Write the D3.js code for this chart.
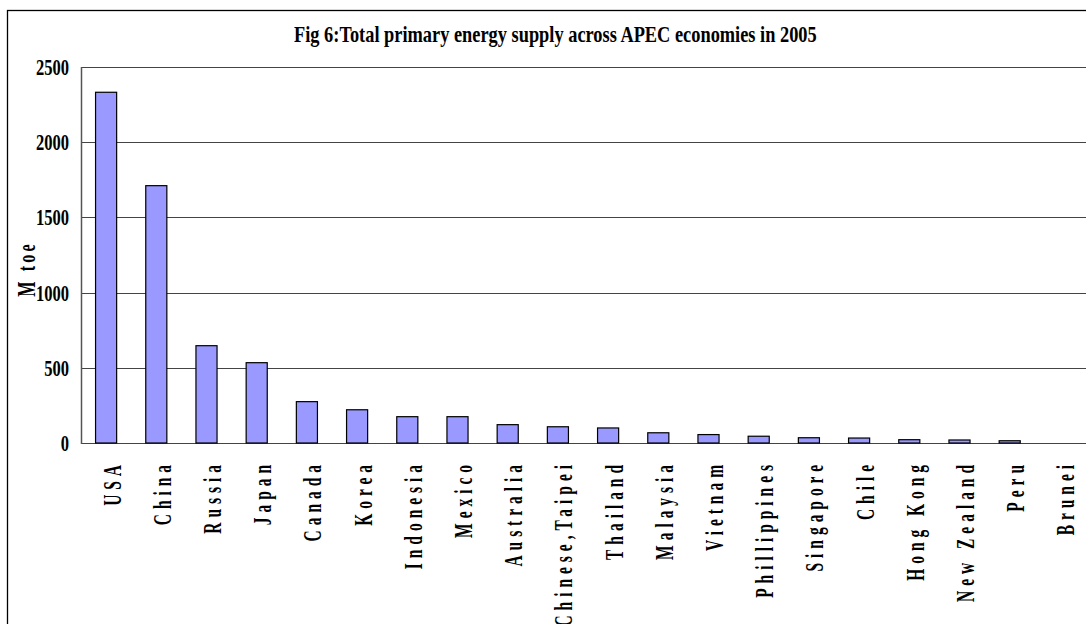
<!DOCTYPE html>
<html>
<head>
<meta charset="utf-8">
<script src="https://cdn.jsdelivr.net/npm/d3@7"></script>
<style>
  html, body { margin: 0; padding: 0; background: #fff; }
  svg { display: block; }
  text { font-family: "Liberation Serif", "Times New Roman", serif; font-weight: bold; fill: #000; }
</style>
</head>
<body>
<script>
const categories = ["USA", "China", "Russia", "Japan", "Canada", "Korea", "Indonesia", "Mexico",
  "Australia", "Chinese,Taipei", "Thailand", "Malaysia", "Vietnam", "Phillippines", "Singapore",
  "Chile", "Hong Kong", "New Zealand", "Peru", "Brunei"];
const values = [2332, 1711, 647, 534, 275, 221, 175, 175, 122, 108, 100, 68, 56, 45, 35, 33, 22, 20, 15, 0];
const yTicks = [0, 500, 1000, 1500, 2000, 2500];
const titleText = "Fig 6:Total primary energy supply across APEC economies in 2005";
const yTitle = "M toe";

(function () {
const W = 1086, H = 624;
const svg = d3.select("body").append("svg").attr("width", W).attr("height", H);

// outer frame (extends beyond the picture on right and bottom)
svg.append("rect").attr("x", 7.5).attr("y", 10.5).attr("width", 1200).attr("height", 800)
  .attr("fill", "none").attr("stroke", "#000").attr("stroke-width", 1.3);

const pLeft = 81, pRight = 1085, pTop = 67, pBottom = 443;
const x = d3.scaleBand().domain(categories).range([pLeft, pRight]).paddingInner(0.58).paddingOuter(0.29);
const y = d3.scaleLinear().domain([0, 2500]).range([pBottom, pTop]);

// gridlines
svg.append("g").selectAll("line").data(yTicks).join("line")
  .attr("x1", pLeft).attr("x2", W)
  .attr("y1", d => Math.round(y(d)) + 0.5).attr("y2", d => Math.round(y(d)) + 0.5)
  .attr("stroke", "#444").attr("stroke-width", 1.1);

// y axis line
svg.append("line").attr("x1", pLeft + 0.5).attr("x2", pLeft + 0.5).attr("y1", pTop).attr("y2", pBottom + 1)
  .attr("stroke", "#555").attr("stroke-width", 1.5);

// bars
svg.append("g").selectAll("rect").data(values).join("rect")
  .attr("x", (d, i) => x(categories[i]))
  .attr("y", d => y(d))
  .attr("width", x.bandwidth())
  .attr("height", d => pBottom - y(d))
  .attr("fill", "#9999ff").attr("stroke", "#000").attr("stroke-width", 1.2);

// y tick labels (condensed)
svg.append("g").selectAll("text").data(yTicks).join("text")
  .attr("transform", d => `translate(69,${y(d) + 8}) scale(0.69,1)`)
  .attr("text-anchor", "end").attr("font-size", 24).text(d => d);

// category labels (rotated, condensed, letter-spaced)
svg.append("g").selectAll("text").data(categories).join("text")
  .attr("transform", d => `translate(${x(d) + x.bandwidth() / 2 + 14.5},460) rotate(-90) scale(0.62,1)`)
  .attr("text-anchor", "end").attr("font-size", 25).attr("letter-spacing", 8).text(d => d);

// y title
svg.append("text")
  .attr("transform", `translate(35,269) rotate(-90) scale(0.62,1)`)
  .attr("text-anchor", "middle").attr("font-size", 26).attr("letter-spacing", 5).text(yTitle);

// title, condensed to fit
const t = svg.append("text").attr("font-size", 24).text(titleText);
const len = t.node().getComputedTextLength();
const s = 523 / len;
t.attr("transform", `translate(294,41.7) scale(${s},1)`);
})();
</script>
</body>
</html>
